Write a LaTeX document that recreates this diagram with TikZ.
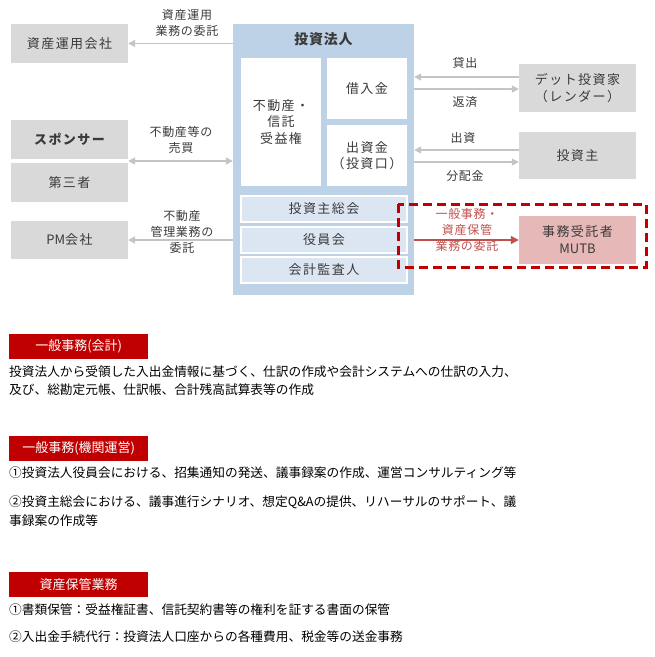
\documentclass[tikz,border=0pt]{standalone}
\usepackage{fontspec}
\setmainfont{Noto Sans CJK JP}
\newfontfamily\boxfnt[LetterSpace=11]{Noto Sans CJK JP}
\newfontfamily\lblfnt[LetterSpace=6]{Noto Sans CJK JP}
\newfontfamily\ttlfnt[LetterSpace=5]{Noto Sans CJK JP}
\newfontfamily\latfnt{Noto Sans CJK JP}
\usetikzlibrary{arrows.meta,calc}
\definecolor{boxgray}{HTML}{D9D9D9}
\definecolor{fundblue}{HTML}{BDD2E7}
\definecolor{subfill}{HTML}{DCE6F2}
\definecolor{txt}{HTML}{3A3A3A}
\definecolor{arrgray}{HTML}{C4C4C4}
\definecolor{redarr}{HTML}{C0504D}
\definecolor{mutbfill}{HTML}{E6B9B8}
\definecolor{darkred}{HTML}{C00000}
\tikzset{
  gbox/.style={fill=boxgray, inner sep=0pt, text=txt, align=center, minimum width=117,
    font=\boxfnt\fontsize{13}{17}\selectfont},
  wbox/.style={fill=white, inner sep=0pt, text=txt, align=center, minimum width=80,
    font=\boxfnt\fontsize{13}{16.5}\selectfont},
  sbox/.style={fill=subfill, draw=white, line width=1.2pt, inner sep=0pt, text=txt,
    minimum width=166, minimum height=26, font=\boxfnt\fontsize{13}{16}\selectfont},
  lbl/.style={text=txt, align=center, inner sep=0pt, font=\lblfnt\fontsize{12}{16}\selectfont},
  garrow/.style={draw=arrgray, line width=1.3pt, -{Triangle[width=7pt,length=7pt]}},
  gdarrow/.style={draw=arrgray, line width=1.3pt, {Triangle[width=7pt,length=7pt]}-{Triangle[width=7pt,length=7pt]}},
  rarrow/.style={draw=redarr, line width=1.6pt, -{Triangle[width=8pt,length=8pt]}},
  hdr/.style={fill=darkred, text=white, inner sep=0pt, minimum width=139, minimum height=25,
    anchor=north west, font=\fontsize{13}{15}\selectfont},
  body/.style={anchor=west, inner sep=0pt, text=black, font=\fontsize{12.7}{15}\selectfont}
}
\begin{document}
\begin{tikzpicture}[x=1pt,y=-1pt]
\useasboundingbox (0,0) rectangle (655,657);
% investment corporation
\node[fill=fundblue, minimum width=181, minimum height=271, inner sep=0pt] (fund) at (323.5,159.5) {};
\node[text=txt, font=\ttlfnt\fontsize{14}{16}\selectfont\bfseries] (ftitle) at (323.5,39) {投資法人};
\node[wbox, minimum height=128] (re) at (281,122) {不動産・\\信託\\受益権};
\node[wbox, minimum height=61] (loan) at (367,88.5) {借入金};
\node[wbox, minimum height=61] (eq) at (367,155.5) {出資金\\（投資口）};
\node[sbox] (gm) at (324,209) {投資主総会};
\node[sbox] (bd) at (324,240) {役員会};
\node[sbox] (aud) at (324,270) {会計監査人};
% left boxes
\node[gbox, minimum height=39] (am) at (69.5,43.5) {資産運用会社};
\node[gbox, minimum height=39, font=\boxfnt\fontsize{13}{17}\selectfont\bfseries] (sp) at (69.5,139.5) {スポンサー};
\node[gbox, minimum height=39] (tp) at (69.5,182.5) {第三者};
\node[gbox, minimum height=38] (pm) at (69.5,240) {{\latfnt PM}会社};
% right boxes
\node[gbox, minimum height=48] (lender) at (577.5,88) {デット投資家\\（レンダー）};
\node[gbox, minimum height=47] (inv) at (577.5,155.5) {投資主};
\node[gbox, minimum height=48, fill=mutbfill] (mutb) at (577.5,240) {事務受託者\\{\latfnt MUTB}};
% left arrows
\draw[garrow] (am.east -| fund.west) -- (am.east);
\coordinate (st) at ($(sp.south east)!0.5!(tp.north east)$);
\draw[gdarrow] (st) -- (st -| fund.west);
\draw[garrow] (pm.east -| fund.west) -- (pm.east);
\node[lbl] (l1) at (187,22.5) {資産運用\\業務の委託};
\node[lbl] (l2) at (181,140) {不動産等の\\売買};
\node[lbl] (l3) at (182,232) {不動産\\管理業務の\\委託};
% right arrows
\coordinate (la) at ([yshift=11pt]lender.west);
\coordinate (lb) at (la -| fund.east);
\coordinate (lc) at ([yshift=-1pt]lender.west);
\coordinate (ld) at (lc -| fund.east);
\draw[garrow] (la) -- (lb);
\draw[garrow] (ld) -- (lc);
\coordinate (ia) at ([yshift=5.5pt]inv.west);
\coordinate (ib) at (ia -| fund.east);
\coordinate (ic) at ([yshift=-6.5pt]inv.west);
\coordinate (id) at (ic -| fund.east);
\draw[garrow] (ia) -- (ib);
\draw[garrow] (id) -- (ic);
\node[lbl] (l4) at (465,63) {貸出};
\node[lbl] (l5) at (465,102) {返済};
\node[lbl] (l6) at (463,138) {出資};
\node[lbl] (l7) at (465,176) {分配金};
% red
\draw[rarrow] (mutb.west -| fund.east) -- (mutb.west);
\node[lbl, text=redarr] (l8) at (467,230) {一般事務・\\資産保管\\業務の委託};
\draw[darkred, line width=3pt, dash pattern=on 9pt off 5pt] (398,204) rectangle (646,267);
% bottom text
\node[hdr] (h1) at (9,334) {一般事務(会計)};
\node[body] (t1) at (9,372) {投資法人から受領した入出金情報に基づく、仕訳の作成や会計システムへの仕訳の入力、};
\node[body] (t2) at (9,390) {及び、総勘定元帳、仕訳帳、合計残高試算表等の作成};
\node[hdr] (h2) at (9,436) {一般事務(機関運営)};
\node[body] (t3) at (9,473) {①投資法人役員会における、招集通知の発送、議事録案の作成、運営コンサルティング等};
\node[body] (t4) at (9,502) {②投資主総会における、議事進行シナリオ、想定Q\&Aの提供、リハーサルのサポート、議};
\node[body] (t5) at (9,521) {事録案の作成等};
\node[hdr] (h3) at (9,572) {資産保管業務};
\node[body] (t6) at (9,610) {①書類保管：受益権証書、信託契約書等の権利を証する書面の保管};
\node[body] (t7) at (9,637) {②入出金手続代行：投資法人口座からの各種費用、税金等の送金事務};
\end{tikzpicture}
\end{document}
